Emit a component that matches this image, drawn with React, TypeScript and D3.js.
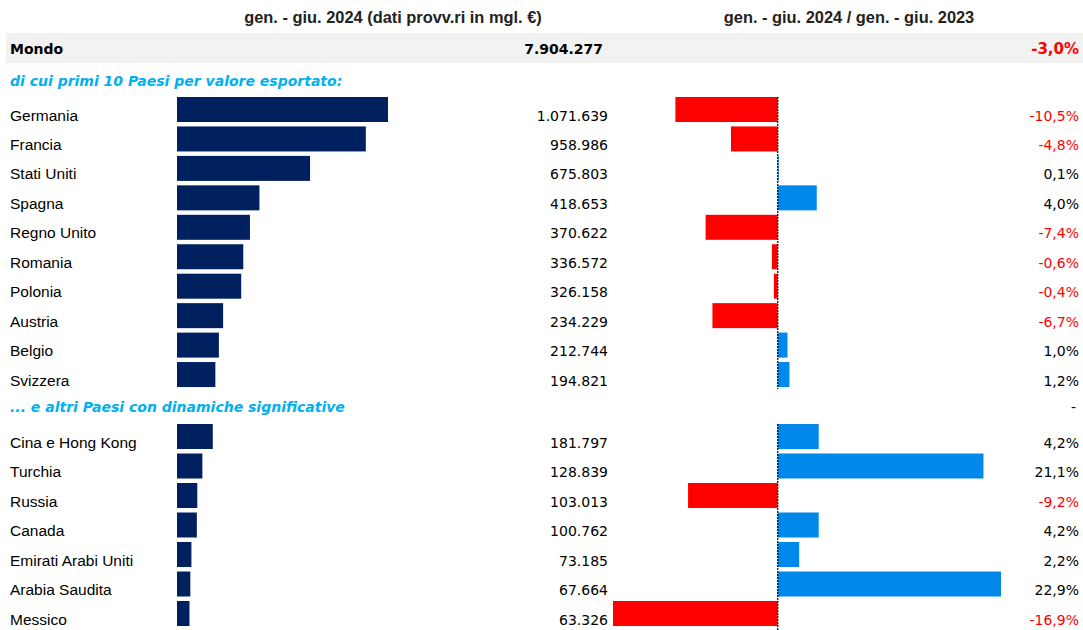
import React from "react";
import * as d3 from "d3";

const topCountries = ["Germania", "Francia", "Stati Uniti", "Spagna", "Regno Unito", "Romania", "Polonia", "Austria", "Belgio", "Svizzera"];
const topValues = [1071639, 958986, 675803, 418653, 370622, 336572, 326158, 234229, 212744, 194821];
const topChanges = [-10.5, -4.8, 0.1, 4.0, -7.4, -0.6, -0.4, -6.7, 1.0, 1.2];

const otherCountries = ["Cina e Hong Kong", "Turchia", "Russia", "Canada", "Emirati Arabi Uniti", "Arabia Saudita", "Messico"];
const otherValues = [181797, 128839, 103013, 100762, 73185, 67664, 63326];
const otherChanges = [4.2, 21.1, -9.2, 4.2, 2.2, 22.9, -16.9];

const worldLabel = "Mondo";
const worldValue = 7904277;
const worldChange = -3.0;

const headerLeft = "gen. - giu. 2024 (dati provv.ri in mgl. €)";
const headerRight = "gen. - giu. 2024 / gen. - giu. 2023";
const section1 = "di cui primi 10 Paesi per valore esportato:";
const section2 = "... e altri Paesi con dinamiche significative";

const locale = d3.formatLocale({ decimal: ",", thousands: ".", grouping: [3], currency: ["", "€"], minus: "-" });
const fmtVal = locale.format(",d");
const fmtPct = (v: number) => locale.format(".1f")(v) + "%";

const NAVY = "#002060";
const RED = "#FF0000";
const BLUE = "#0088EA";
const CYAN = "#00B0F0";

export default function App() {
  const W = 1083, H = 630;
  const xVal = d3.scaleLinear().domain([0, 1071639]).range([177, 388]);
  const xPct = d3.scaleLinear().domain([-16.9, 22.9]).range([613, 1001]);
  const zeroX = xPct(0);

  const y1 = d3.scaleBand<string>().domain(topCountries).range([97, 97 + 29.45 * 10]).padding(0);
  const y2 = d3.scaleBand<string>().domain(otherCountries).range([424, 424 + 29.5 * 7]).padding(0);

  const labelFont = "'Liberation Sans', Arial, sans-serif";
  const numFont = "'DejaVu Sans', Verdana, sans-serif";

  const renderRows = (names: string[], vals: number[], chg: number[], y: d3.ScaleBand<string>) =>
    names.map((n, i) => {
      const top = y(n)!;
      const bh = 25;
      const base = top + 23.5;
      const c = chg[i];
      return (
        <g key={n}>
          <text x={10} y={base} fontFamily={labelFont} fontSize={15.5} fill="#000">{n}</text>
          <rect x={xVal(0)} y={top} width={xVal(vals[i]) - xVal(0)} height={bh} fill={NAVY} />
          <text x={608} y={base} textAnchor="end" fontFamily={numFont} fontSize={14} fill="#000">{fmtVal(vals[i])}</text>
          <rect x={Math.min(xPct(c), zeroX)} y={top} width={Math.abs(xPct(c) - zeroX)} height={bh} fill={c < 0 ? RED : BLUE} />
          <text x={1079} y={base} textAnchor="end" fontFamily={numFont} fontSize={14} fill={c < 0 ? RED : "#000"}>{fmtPct(c)}</text>
        </g>
      );
    });

  return (
    <svg width={W} height={H} style={{ position: "absolute", left: 0, top: 0, background: "#fff" }}>
      <text x={393} y={23} textAnchor="middle" fontFamily={labelFont} fontWeight="bold" fontSize={16.4} fill="#222">{headerLeft}</text>
      <text x={849} y={23} textAnchor="middle" fontFamily={labelFont} fontWeight="bold" fontSize={16.4} fill="#222">{headerRight}</text>

      <rect x={6} y={33} width={W - 6} height={30} fill="#F2F2F2" />
      <text x={10} y={54} fontFamily={numFont} fontWeight="bold" fontSize={14} fill="#000">{worldLabel}</text>
      <text x={603} y={54} textAnchor="end" fontFamily={numFont} fontWeight="bold" fontSize={14} fill="#000">{fmtVal(worldValue)}</text>
      <text x={1079} y={54} textAnchor="end" fontFamily={numFont} fontWeight="bold" fontSize={15} fill={RED}>{fmtPct(worldChange)}</text>

      <text x={10} y={86} fontFamily={numFont} fontWeight="bold" fontStyle="italic" fontSize={14} fill={CYAN}>{section1}</text>
      <text x={10} y={412} fontFamily={numFont} fontWeight="bold" fontStyle="italic" fontSize={14} fill={CYAN}>{section2}</text>
      <text x={1076} y={412} textAnchor="end" fontFamily={numFont} fontSize={14} fill="#000">-</text>

      {renderRows(topCountries, topValues, topChanges, y1)}
      {renderRows(otherCountries, otherValues, otherChanges, y2)}

      <line x1={zeroX} x2={zeroX} y1={97} y2={389} stroke="#000" strokeWidth={1.2} strokeDasharray="2,1" />
      <line x1={zeroX} x2={zeroX} y1={424} y2={630} stroke="#000" strokeWidth={1.2} strokeDasharray="2,1" />
    </svg>
  );
}
